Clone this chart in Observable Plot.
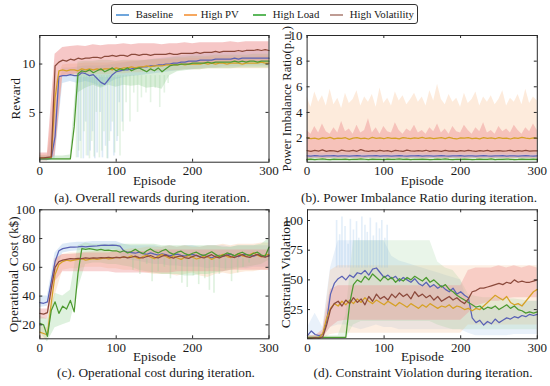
<!DOCTYPE html>
<html><head><meta charset="utf-8">
<script src="https://cdn.jsdelivr.net/npm/d3@7"></script>
<script src="https://cdn.jsdelivr.net/npm/@observablehq/plot@0.6"></script>
<style>
body{margin:0;background:#fff;font-family:'Liberation Serif',serif;}
#wrap{position:relative;width:550px;height:386px;overflow:hidden;background:#fff;}
#wrap svg text{font-family:'Liberation Serif',serif !important;}
.panel{position:absolute;overflow:visible;}
.cap{position:absolute;font-size:13.3px;white-space:nowrap;transform:translate(-50%,-50%);color:#1a1a1a;}
#legend{position:absolute;left:110.5px;top:4.3px;width:307px;height:20px;box-sizing:border-box;border:1px solid #333;border-radius:3px;font-size:10.8px;color:#1a1a1a;}
.sw{position:absolute;top:8.5px;width:13px;height:2px;}
.lt{position:absolute;top:2.3px;white-space:nowrap;}
</style></head>
<body><div id="wrap"><div id="legend"></div></div>
<script>
// ---------- categories & colours ----------
const series = ["Baseline", "High PV", "High Load", "High Volatility"];
const lineColors = ["#5a62b5", "#d6a126", "#4d9a30", "#8c4a3c"];
const bandColors = ["#8fbbe6", "#f9bd8a", "#92cf92", "#ee9090"];
const legendColors = ["#6fa6dc", "#f6a860", "#5cb85c", "#bf9c94"];
const xTicks = [0, 100, 200, 300];
const eps5 = d3.range(0, 301, 5);   // episode index for mean lines
const eps10 = d3.range(0, 301, 10); // episode index for bands

// ---------- (a) Reward ----------
const A_base = [0.2,0.2,0.2,0.25,2.5,8.7,8.8,8.8,8.9,8.8, 8.8,9.1,9.0,8.8,8.9,8.5,8.1,7.9,8.4,8.9, 9.2,9.3,9.4,9.4,9.5,9.6,9.6,9.7,9.7,9.8, 9.8,9.9,9.9,10.0,10.0,10.1,10.1,10.2,10.2,10.3, 10.3,10.3,10.4,10.4,10.4,10.4,10.5,10.5,10.5,10.5, 10.5,10.6,10.5,10.6,10.6,10.6,10.6,10.6,10.6,10.6, 10.6];
const A_pv = [0.3,0.3,0.3,0.35,6.5,9.3,9.4,9.3,9.4,9.4, 9.3,9.5,9.4,9.5,9.4,9.5,9.4,9.5,9.5,9.4, 9.6,9.5,9.6,9.6,9.7,9.6,9.7,9.7,9.8,9.7, 9.8,9.8,9.8,9.9,9.9,9.9,9.9,10.0,9.9,10.0, 10.0,10.0,10.0,10.1,10.0,10.1,10.0,10.1,10.1,10.0, 10.1,10.1,10.1,10.0,10.1,10.1,10.1,10.1,10.2,10.1, 10.1];
const A_load = [0.2,0.2,0.2,0.2,0.2,0.2,0.2,0.2,0.2,3.5, 9.0,9.3,9.2,9.4,9.1,9.3,9.5,9.2,9.4,9.6, 9.3,9.5,9.4,9.6,9.3,9.5,9.6,9.4,9.2,9.5, 9.3,9.6,9.2,9.5,9.8,9.9,9.9,10.0,10.0,10.0, 10.1,10.1,10.1,10.1,10.2,10.1,10.2,10.2,10.2,10.2, 10.2,10.3,10.2,10.3,10.2,10.3,10.3,10.2,10.3,10.3, 10.3];
const A_vol = [0.3,0.3,0.35,0.4,9.8,10.2,10.4,10.3,10.5,10.4, 10.6,10.5,10.6,10.6,10.7,10.7,10.6,10.8,10.8,10.9, 10.8,10.9,10.9,10.8,11.0,11.0,10.9,11.0,11.0,10.9, 11.0,11.0,11.0,11.0,11.1,11.0,11.0,11.1,11.1,11.1, 11.1,11.2,11.1,11.2,11.2,11.2,11.3,11.2,11.3,11.3, 11.3,11.3,11.4,11.3,11.4,11.4,11.4,11.5,11.4,11.5, 11.4];
const A_base_lo = [0,0,0.2,8.0,8.2,8.0,8.2,8.0,7.6,8.0, 8.4,8.6,8.7,8.8,8.9,9.0,9.1,9.2,9.3,9.4, 9.4,9.5,9.6,9.6,9.7,9.7,9.7,9.8,9.8,9.8,9.8];
const A_base_hi = [0.5,0.5,5.0,9.6,9.6,9.7,9.8,9.8,9.8,9.9, 10.0,10.1,10.2,10.3,10.4,10.5,10.6,10.7,10.8,10.9, 11.0,11.0,11.1,11.1,11.2,11.2,11.2,11.3,11.3,11.3,11.3];
const A_pv_lo = [0,0,1.0,8.8,8.8,8.8,8.9,8.9,8.9,8.9, 9.0,9.0,9.1,9.1,9.2,9.2,9.3,9.3,9.3,9.4, 9.4,9.4,9.5,9.5,9.5,9.5,9.5,9.5,9.5,9.5,9.5];
const A_pv_hi = [0.6,0.6,8.0,9.9,10.0,10.0,10.1,10.1,10.1,10.1, 10.2,10.2,10.3,10.3,10.4,10.4,10.5,10.5,10.5,10.6, 10.6,10.6,10.7,10.7,10.7,10.7,10.7,10.7,10.7,10.8,10.8];
const A_load_lo = [0,0,0,0,0,7.0,7.5,7.8,7.5,7.8, 7.6,7.8,7.7,7.8,7.5,7.6,7.4,8.8,9.2,9.3, 9.4,9.4,9.5,9.5,9.5,9.5,9.6,9.6,9.6,9.6,9.6];
const A_load_hi = [0.5,0.5,0.5,0.5,0.6,10.2,10.3,10.3,10.4,10.4, 10.3,10.4,10.4,10.4,10.4,10.5,10.5,10.6,10.7,10.7, 10.8,10.8,10.8,10.9,10.9,10.9,10.9,10.9,11.0,11.0,11.0];
const A_vol_lo = [0,0,0.5,8.8,8.9,9.0,9.1,9.2,9.3,9.4, 9.5,9.6,9.6,9.7,9.7,9.8,9.8,9.8,9.9,9.9, 9.9,10.0,10.0,10.0,10.1,10.1,10.1,10.1,10.2,10.2,10.2];
const A_vol_hi = [0.8,0.8,11.0,11.7,11.8,11.9,11.8,12.0,11.9,12.0, 12.0,12.1,12.0,12.1,12.1,12.1,12.0,12.1,12.1,12.2, 12.1,12.2,12.2,12.2,12.2,12.3,12.2,12.3,12.3,12.3,12.3];
const A_spk_base_ep = [50,53,57,60,63,66,69,72,75,79,82,86,89,93,97,101,104,108];
const A_spk_base_lo = [0.3,2,0.2,4,0.5,1,3,0.2,0.8,5,0.3,1.5,0.2,3,0.5,2,6,4];
const A_spk_load_ep = [48,51,54,58,61,65,68,71,74,78,81,84,88,91,95,98,102,105,109,113,118,123,128,133,139,145,151,157,163,168];
const A_spk_load_lo = [0.3,1,0.2,3,0.5,0.2,2,0.4,5,0.3,1,3,0.2,2,4,0.8,2.5,0.5,3,6,4,7,5,6.5,7,6,7.5,5.5,7,8];

// ---------- (b) Power imbalance ratio ----------
const B_base = [0.62,0.60,0.63,0.61,0.60,0.62,0.61,0.63,0.60,0.62, 0.61,0.60,0.62,0.63,0.61,0.60,0.62,0.61,0.63,0.60, 0.62,0.61,0.60,0.62,0.63,0.61,0.60,0.62,0.61,0.63, 0.60,0.62,0.61,0.60,0.62,0.63,0.61,0.60,0.62,0.61, 0.63,0.60,0.62,0.61,0.60,0.62,0.63,0.61,0.60,0.62, 0.61,0.63,0.60,0.62,0.61,0.60,0.62,0.63,0.61,0.60, 0.62];
const B_pv = [2.05,1.95,2.0,1.92,2.02,1.98,2.06,1.94,2.0,1.97, 2.03,1.9,1.99,2.04,1.96,2.0,1.93,2.05,1.98,2.01, 1.95,2.03,1.97,2.0,1.94,2.04,1.99,1.96,2.02,1.98, 2.06,1.97,2.01,1.95,2.0,2.03,1.96,2.05,1.98,1.93, 2.02,1.99,2.04,1.96,2.0,1.94,2.03,1.97,2.01,1.95, 2.04,1.98,2.0,1.93,2.02,1.97,2.05,1.99,1.96,2.01, 1.98];
const B_load = [0.34,0.36,0.33,0.35,0.37,0.34,0.33,0.36,0.35,0.34, 0.36,0.33,0.35,0.34,0.37,0.35,0.33,0.36,0.34,0.35, 0.33,0.36,0.34,0.35,0.37,0.34,0.36,0.33,0.35,0.34, 0.36,0.35,0.33,0.34,0.36,0.35,0.37,0.34,0.33,0.35, 0.34,0.36,0.35,0.33,0.34,0.36,0.35,0.34,0.37,0.33, 0.35,0.34,0.36,0.35,0.33,0.34,0.36,0.35,0.34,0.36, 0.35];
const B_vol = [1.02,0.97,1.05,0.99,1.08,0.96,1.03,1.0,0.95,1.06, 1.01,0.98,1.04,0.97,1.1,1.0,0.96,1.03,0.99,1.05, 0.98,1.02,0.95,1.04,1.0,0.97,1.06,1.01,0.98,1.03, 0.99,1.05,0.96,1.02,1.0,0.97,1.04,0.99,1.01,0.96, 1.03,0.98,1.05,1.0,0.97,1.02,0.99,1.04,0.96,1.01, 1.03,0.98,1.0,1.05,0.97,1.02,0.99,1.04,0.98,1.01, 1.0];
const B_base_lo = [0.44,0.42,0.45,0.43,0.44,0.42,0.45,0.44,0.43,0.42, 0.44,0.45,0.43,0.42,0.44,0.43,0.45,0.44,0.42,0.43, 0.44,0.45,0.43,0.44,0.42,0.43,0.45,0.44,0.43,0.42,0.44];
const B_base_hi = [0.84,0.88,0.82,0.86,0.90,0.83,0.85,0.87,0.82,0.89, 0.84,0.86,0.83,0.88,0.85,0.82,0.87,0.84,0.90,0.83, 0.86,0.85,0.88,0.82,0.84,0.87,0.83,0.86,0.85,0.88,0.84];
const B_load_lo = [0.16,0.17,0.15,0.16,0.18,0.15,0.16,0.17,0.15,0.16, 0.17,0.16,0.15,0.17,0.16,0.15,0.16,0.18,0.16,0.15, 0.17,0.16,0.15,0.16,0.17,0.15,0.16,0.17,0.16,0.15,0.16];
const B_load_hi = [0.50,0.48,0.52,0.49,0.51,0.50,0.47,0.52,0.49,0.50, 0.51,0.48,0.50,0.52,0.49,0.50,0.48,0.51,0.50,0.49, 0.52,0.50,0.48,0.51,0.49,0.50,0.52,0.48,0.50,0.51,0.50];
const B_pv_lo = [0.72,0.70,0.74,0.71,0.69,0.73,0.70,0.72,0.75,0.71, 0.70,0.73,0.71,0.69,0.72,0.74,0.70,0.71,0.73,0.70, 0.72,0.69,0.71,0.74,0.70,0.72,0.71,0.73,0.70,0.72, 0.74,0.71,0.70,0.72,0.69,0.73,0.71,0.70,0.72,0.74, 0.71,0.70,0.73,0.72,0.70,0.71,0.74,0.72,0.70,0.73, 0.71,0.72,0.70,0.74,0.71,0.70,0.72,0.73,0.71,0.70, 0.72];
const B_pv_hi = [5.2,4.4,5.6,4.8,5.3,4.5,5.8,4.6,5.1,4.3, 5.5,4.7,5.0,5.7,4.5,5.2,4.8,5.4,4.4,5.9, 4.7,5.1,4.5,5.6,4.9,5.3,4.6,5.0,5.5,4.8, 5.2,4.5,5.7,4.9,6.2,5.0,4.6,5.4,4.8,5.1, 4.4,5.5,4.7,5.0,5.6,4.5,5.2,4.8,5.3,4.6, 5.0,5.7,4.5,5.1,4.8,5.4,4.6,5.8,4.7,5.2, 4.9];
const B_vol_lo = [0.40,0.38,0.42,0.39,0.41,0.37,0.40,0.43,0.38,0.41, 0.39,0.42,0.40,0.37,0.41,0.39,0.43,0.40,0.38,0.41, 0.42,0.39,0.40,0.38,0.41,0.43,0.39,0.40,0.42,0.38, 0.41,0.39,0.40,0.42,0.38,0.41,0.40,0.39,0.43,0.40, 0.38,0.41,0.39,0.42,0.40,0.38,0.41,0.43,0.39,0.40, 0.42,0.38,0.41,0.40,0.39,0.42,0.40,0.38,0.41,0.39, 0.40];
const B_vol_hi = [2.6,2.3,2.9,2.4,3.1,2.5,2.3,2.8,2.4,3.3, 2.5,2.7,2.3,3.0,2.4,2.6,3.5,2.4,2.8,2.3, 2.9,2.5,2.4,3.2,2.6,2.3,2.7,2.5,3.0,2.4, 2.6,2.3,2.8,2.5,3.1,2.4,2.7,2.3,2.9,2.5, 2.4,3.0,2.6,2.3,2.8,2.5,3.2,2.4,2.6,2.3, 2.9,2.5,2.7,2.4,3.0,2.6,2.3,2.8,2.5,3.1, 2.6];

// ---------- (c) Operational cost ----------
const C_base = [35.5,35,36,50,64,71.5,73,73.5,74,74, 74.2,74.5,74.3,74.6,74.8,74.9,75.2,75.5,75.3,75.4, 75.2,74.8,71.5,70.5,70.2,69.8,70.5,69.5,69.0,70.0, 69.2,68.5,69.4,68.8,68.0,68.6,69.2,68.4,67.8,68.5, 69.0,68.2,67.5,68.6,67.2,66.5,67.8,68.4,67.6,68.5, 69.2,68.0,67.4,68.6,69.0,68.2,67.8,68.8,68.0,67.5, 68.2];
const C_pv = [15,14,13,35,55,62,64,65,64.5,65, 65.5,66,65,65.5,66,65.5,66,66.5,65.8,66.2, 67,66.5,67.2,66.8,68,67,66,67.5,68.5,67, 66,67.8,69,67.5,66.2,68,66.5,65.5,67,68.2, 67,65.8,66.5,68,67.2,65.5,66.8,68,69,67.5, 66.8,68.2,69.5,68,67.5,68.8,70,68.5,67.2,68.5, 69];
const C_load = [21,20,12,30,36,28,33,31,37,29, 56,73,72.5,73,72.5,72,72.5,71.8,72,71.5, 71.5,70.5,71.5,70,71,72.5,70.8,69.5,71.5,72.8, 71,70,71.5,72.5,70.2,69,70.5,71.2,69.5,68.5, 69.8,70.5,69,68.2,69.5,70.8,69,67.5,68.5,70, 69.2,68,69.5,70.5,69,68.2,69.8,70.5,68.5,67.8, 74];
const C_vol = [28,27.5,28.5,45,60,64,65,65.5,66,65.8, 66.2,66,66.5,66.3,66.6,66.4,66.8,66.5,66.9,66.6, 67,66.8,67.2,66.5,67,67.8,66.8,66.5,67.5,68.2, 67,66.5,67.8,68.5,67.2,66.4,67.5,68,66.8,66.2, 67.5,68.4,67,66.5,67.8,68.8,67.2,66.5,67.8,68.6, 67.4,66.8,68,68.8,67.5,66.9,68.2,69,67.6,67, 68];
const C_base_lo = [32,33,55,70,71,71.5,72,72,72,72, 72,66,65,64,63,62,62,61,61,60, 60,60,59,60,59,59,60,59,60,60,60];
const C_base_hi = [40,40,70,76,77,77.5,77.5,78,78,78, 78,76,75,75,75,75,74,75,74,75, 75,74,75,75,75,74,75,75,75,75,75];
const C_pv_lo = [10,10,40,58,59,59,60,60,60,59, 59,58,58,57,56,55,55,55,54,55, 56,54,53,55,56,55,56,57,57,58,58];
const C_pv_hi = [19,18,65,69,70,70,70.5,71,71,71, 72,72,73,73,74,74,74,75,74,75, 74,74,75,75,76,75,76,76,76,77,77];
const C_load_lo = [15,8,18,20,22,45,62,63,63,62, 62,61,60,58,57,56,55,55,55,54, 54,55,55,56,57,58,59,60,61,62,65];
const C_load_hi = [26,24,42,40,44,75,77,76,76,76, 76,76,76,76,76,76,75,75,75,75, 75,75,75,75,74,74,75,75,75,76,80];
const C_vol_lo = [24,24,50,57,57,57,57,57,57,57, 56,56,56,56,56,56,56,56,57,57, 57,57,57,57,57,58,58,58,58,58,58];
const C_vol_hi = [31,31,66,69,69,69.5,70,70,70,70, 71,71,71,71,71,72,72,72,72,72, 72,72,72,72,72,72,72,72,72,72,72];
const C_spk_load_ep = [122,131,140,147,155,163,171,178,186,193,201,208,216,222,228,235,243,251,259,266,274];
const C_spk_load_lo = [58,55,62,50,57,60,52,58,49,46,54,48,52,44,42,55,58,50,56,60,63];

// ---------- (d) Constraint violation ----------
const D_base = [3,7,4,3,4,15,38,47,51,53, 50,54,52,56,55,58,54,59,60,56, 52,54,51,53,49,52,50,48,51,47, 45,48,44,46,43,45,42,40,43,38, 40,37,35,18,14,16,12,15,13,17, 14,16,18,17,19,18,20,19,21,20, 21];
const D_pv = [1,1,1,1.5,5,18,26,30,28,32, 29,33,30,34,31,35,32,30,33,31, 29,32,30,28,31,29,27,30,28,26, 29,27,30,28,26,28,27,29,26,28, 27,25,26,24,26,25,28,31,34,37, 35,33,36,31,29,30,28,32,36,40, 42];
const D_load = [1.5,1.5,1.5,1.5,1.5,1.5,1.5,1.5,1.5,1.5, 1.5,30,46,50,48,53,50,55,52,49, 53,50,52,48,51,49,52,50,53,51, 49,52,48,50,47,44,46,42,40,37, 35,33,31,29,27,28,25,27,26,28, 25,27,29,26,28,25,24,22,23,22, 23];
const D_vol = [1,1,1.5,1,2,12,25,30,32,28, 33,30,35,31,34,29,36,32,38,34, 36,33,38,35,39,36,38,34,40,36, 38,35,37,33,36,32,34,36,33,35, 32,30,34,40,41,43,43,44,45,46, 47,46,48,47,50,48,49,48,48,49, 50];
const D_base_lo = [0,1,1,10,12,12,10,8,10,12, 10,10,8,8,8,8,8,8,8,8, 8,5,3,3,3,3,3,4,4,4,4];
const D_base_hi = [10,22,10,60,83,83,83,83,83,83, 83,70,66,64,62,60,58,56,54,52, 50,30,28,26,28,26,28,29,30,32,32];
const D_pv_lo = [0,0,0,4,5,5,5,5,5,5, 5,5,5,5,5,5,5,5,5,5, 5,12,12,12,12,12,12,12,12,12,12];
const D_pv_hi = [3,3,6,58,62,62,62,62,62,62, 62,62,62,62,62,62,62,62,62,62, 62,62,62,62,62,62,62,62,62,62,62];
const D_load_lo = [0,0,0,0,0,0,12,15,15,15, 15,15,15,15,15,15,15,12,10,8, 8,8,8,8,8,8,8,8,8,8,8];
const D_load_hi = [3,3,3,3,3,20,83,83,83,83, 83,83,83,83,83,83,83,65,60,58, 50,38,36,35,35,35,34,34,33,32,32];
const D_vol_lo = [0,0,1,10,15,16,16,16,16,16, 16,16,16,16,16,16,16,16,16,16, 16,22,28,30,32,32,34,35,35,35,35];
const D_vol_hi = [3,3,8,42,45,45,45,45,45,45, 45,45,45,45,45,45,45,45,45,45, 45,58,60,60,60,62,60,62,60,62,60];
const D_spk_base_ep = [38,42,45,49,53,56,60,64,67,71,75,78,82,86,90,94,97,101,104];
const D_spk_base_hi = [100,88,103,95,80,101,92,99,85,103,96,90,102,87,98,93,100,85,96];

// ---------- helpers ----------
const rows = (xs, ys) => xs.map((x, i) => ({ep: x, v: ys[i]}));
const bandRows = (xs, lo, hi) => xs.map((x, i) => ({ep: x, lo: lo[i], hi: hi[i]}));
const FONT = "Liberation Serif";

function panel(cfg) {
  const {left, top, width, height, mL, mR, mT, mB, yDomain, yTicks, ylabel, ylabelDx, ylabelSize, lines, bands, spikes} = cfg;
  const innerW = width - mL - mR, innerH = height - mT - mB;
  const marks = [];
  bands.forEach(b => marks.push(Plot.areaY(bandRows(b.x, b.lo, b.hi), {x: "ep", y1: "lo", y2: "hi", fill: bandColors[b.s], fillOpacity: b.op ?? 0.35})));
  (spikes || []).forEach(s => marks.push(Plot.ruleX(s.x.map((x, i) => ({ep: x, lo: Array.isArray(s.lo) ? s.lo[i] : s.lo, hi: Array.isArray(s.hi) ? s.hi[i] : s.hi})), {x: "ep", y1: "lo", y2: "hi", stroke: bandColors[s.s], strokeOpacity: s.op ?? 0.3, strokeWidth: 1.6})));
  lines.forEach(l => marks.push(Plot.lineY(rows(l.x, l.y), {x: "ep", y: "v", stroke: lineColors[l.s], strokeWidth: 1.25})));
  marks.push(Plot.frame({stroke: "#2a2a2a", strokeWidth: 1}));
  marks.push(Plot.tickX(xTicks, {x: d => d, insetTop: innerH - 3, stroke: "#2a2a2a"}));
  marks.push(Plot.tickX(xTicks, {x: d => d, insetBottom: innerH - 3, stroke: "#2a2a2a"}));
  marks.push(Plot.tickY(yTicks, {y: d => d, insetRight: innerW - 3, stroke: "#2a2a2a"}));
  marks.push(Plot.tickY(yTicks, {y: d => d, insetLeft: innerW - 3, stroke: "#2a2a2a"}));
  marks.push(Plot.axisX(xTicks, {tickSize: 0, tickPadding: 3.5, fontSize: 13, fill: "#1a1a1a", label: null}));
  marks.push(Plot.axisY(yTicks, {tickSize: 0, tickPadding: 4.5, fontSize: 13, fill: "#1a1a1a", label: null}));
  marks.push(Plot.text(["Episode"], {text: d => d, frameAnchor: "bottom", textAnchor: "middle", lineAnchor: "middle", dy: 18.3, fontSize: 13.3, fill: "#1a1a1a"}));
  marks.push(Plot.text([ylabel], {text: d => d, frameAnchor: "left", textAnchor: "middle", lineAnchor: "middle", rotate: -90, dx: ylabelDx, fontSize: ylabelSize, fill: "#1a1a1a"}));
  const svg = Plot.plot({
    width, height, marginLeft: mL, marginRight: mR, marginTop: mT, marginBottom: mB,
    x: {domain: [0, 300]},
    y: {domain: yDomain},
    marks
  });
  // force the serif face on the root and on every text node
  svg.setAttribute("font-family", FONT);
  svg.style.fontFamily = FONT;
  svg.querySelectorAll("g, text").forEach(el => {
    if (el.hasAttribute("font-family")) el.setAttribute("font-family", FONT);
  });
  svg.querySelectorAll("text").forEach(t => { t.setAttribute("font-family", FONT); t.style.fontFamily = FONT; });
  svg.classList.add("panel");
  svg.style.position = "absolute";
  svg.style.left = left + "px"; svg.style.top = top + "px";
  svg.style.overflow = "visible";
  svg.style.background = "transparent";
  svg.style.maxWidth = "none";
  document.getElementById("wrap").appendChild(svg);
}

// (a)
panel({left: 0, top: 30, width: 276, height: 160, mL: 39.3, mR: 7.5, mT: 5, mB: 28.3,
  yDomain: [-0.15, 12.95], yTicks: [5, 10], ylabel: "Reward", ylabelDx: -24.5, ylabelSize: 13.3,
  bands: [{s: 0, x: eps10, lo: A_base_lo, hi: A_base_hi}, {s: 1, x: eps10, lo: A_pv_lo, hi: A_pv_hi}, {s: 2, x: eps10, lo: A_load_lo, hi: A_load_hi}, {s: 3, x: eps10, lo: A_vol_lo, hi: A_vol_hi, op: 0.5}],
  spikes: [{s: 0, x: A_spk_base_ep, lo: A_spk_base_lo, hi: 8.6, op: 0.3}, {s: 2, x: A_spk_load_ep, lo: A_spk_load_lo, hi: 8.8, op: 0.25}],
  lines: [{s: 0, x: eps5, y: A_base}, {s: 1, x: eps5, y: A_pv}, {s: 2, x: eps5, y: A_load}, {s: 3, x: eps5, y: A_vol}]});
// (b)
panel({left: 276, top: 30, width: 274, height: 160, mL: 30.6, mR: 13.2, mT: 5, mB: 28.3,
  yDomain: [0.12, 10], yTicks: [2, 4, 6, 8, 10], ylabel: "Power Imbalance Ratio(p.u.)", ylabelDx: -20.5, ylabelSize: 12.6,
  bands: [{s: 0, x: eps10, lo: B_base_lo, hi: B_base_hi}, {s: 1, x: eps5, lo: B_pv_lo, hi: B_pv_hi, op: 0.3}, {s: 2, x: eps10, lo: B_load_lo, hi: B_load_hi}, {s: 3, x: eps5, lo: B_vol_lo, hi: B_vol_hi, op: 0.45}],
  lines: [{s: 0, x: eps5, y: B_base}, {s: 1, x: eps5, y: B_pv}, {s: 2, x: eps5, y: B_load}, {s: 3, x: eps5, y: B_vol}]});
// (c)
panel({left: 0, top: 204, width: 276, height: 160, mL: 39.3, mR: 7.5, mT: 5.3, mB: 25.7,
  yDomain: [10.3, 100], yTicks: [20, 40, 60, 80, 100], ylabel: "Operational Cost (k$)", ylabelDx: -26.5, ylabelSize: 13.3,
  bands: [{s: 0, x: eps10, lo: C_base_lo, hi: C_base_hi, op: 0.3}, {s: 1, x: eps10, lo: C_pv_lo, hi: C_pv_hi, op: 0.3}, {s: 2, x: eps10, lo: C_load_lo, hi: C_load_hi, op: 0.3}, {s: 3, x: eps10, lo: C_vol_lo, hi: C_vol_hi, op: 0.4}],
  spikes: [{s: 2, x: C_spk_load_ep, lo: C_spk_load_lo, hi: 66, op: 0.3}],
  lines: [{s: 0, x: eps5, y: C_base}, {s: 1, x: eps5, y: C_pv}, {s: 2, x: eps5, y: C_load}, {s: 3, x: eps5, y: C_vol}]});
// (d)
panel({left: 276, top: 204, width: 274, height: 160, mL: 31, mR: 13.2, mT: 5.3, mB: 25.7,
  yDomain: [0.4, 109], yTicks: [25, 50, 75, 100], ylabel: "Constraint Violation", ylabelDx: -22, ylabelSize: 13.3,
  bands: [{s: 0, x: eps10, lo: D_base_lo, hi: D_base_hi, op: 0.2}, {s: 1, x: eps10, lo: D_pv_lo, hi: D_pv_hi, op: 0.25}, {s: 2, x: eps10, lo: D_load_lo, hi: D_load_hi, op: 0.2}, {s: 3, x: eps10, lo: D_vol_lo, hi: D_vol_hi, op: 0.35}],
  spikes: [{s: 0, x: D_spk_base_ep, lo: 60, hi: D_spk_base_hi, op: 0.25}],
  lines: [{s: 0, x: eps5, y: D_base}, {s: 1, x: eps5, y: D_pv}, {s: 2, x: eps5, y: D_load}, {s: 3, x: eps5, y: D_vol}]});

// captions
const captions = [
  ["(a). Overall rewards during iteration.", 152, 198],
  ["(b). Power Imbalance Ratio during iteration.", 419, 198],
  ["(c). Operational cost during iteration.", 156, 372.7],
  ["(d). Constraint Violation during iteration.", 423, 372.7]
];
const wrap = document.getElementById("wrap");
captions.forEach(([t, x, y]) => {
  const d = document.createElement("div");
  d.className = "cap"; d.textContent = t; d.style.left = x + "px"; d.style.top = y + "px";
  wrap.appendChild(d);
});
// legend
const leg = document.getElementById("legend");
const swX = [4.3, 72.3, 141.3, 218.3], txX = [24.3, 89.3, 161.3, 238.3];
series.forEach((name, i) => {
  const s = document.createElement("div"); s.className = "sw"; s.style.left = swX[i] + "px"; s.style.background = legendColors[i];
  const t = document.createElement("div"); t.className = "lt"; t.style.left = txX[i] + "px"; t.textContent = name;
  leg.appendChild(s); leg.appendChild(t);
});
</script></body></html>
